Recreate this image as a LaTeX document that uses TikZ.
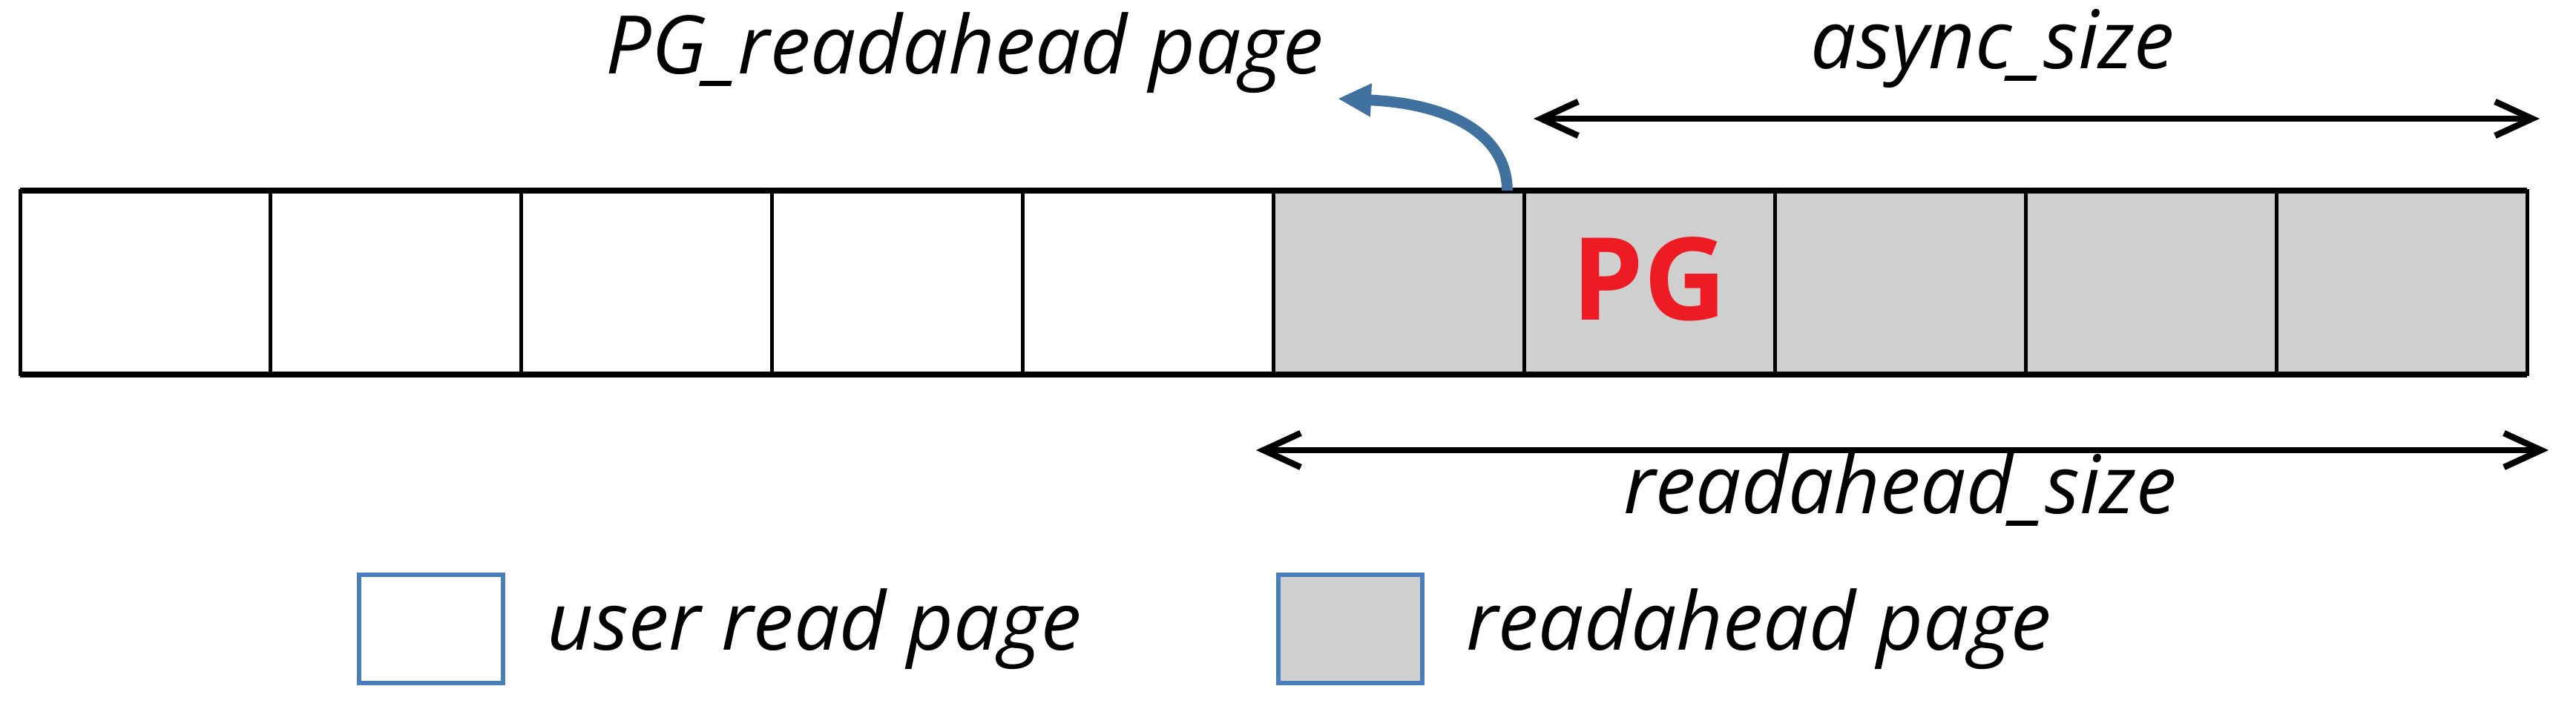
\documentclass[tikz,border=0pt]{standalone}
\usepackage{fontspec}
\setmainfont{Open Sans}
\usepackage{tikz}
\usetikzlibrary{positioning,arrows.meta,calc}
\definecolor{pageF}{HTML}{D0CFCF}
\definecolor{keyB}{HTML}{4A7EBB}
\definecolor{hintB}{HTML}{41729F}
\definecolor{pgred}{HTML}{ED1C24}
\tikzset{
  page/.style={draw=black, line width=1.4pt, minimum width=3.379cm,
               minimum height=2.48cm, inner sep=0pt, outer sep=0pt},
  userpg/.style={page, fill=white},
  rapg/.style={page, fill=pageF},
  lbl/.style={font=\itshape\fontsize{31}{36}\selectfont, inner sep=0pt},
  span/.style={{Straight Barb[length=5mm,width=4.6mm,line width=2.4pt]}-{Straight Barb[length=5mm,width=4.6mm,line width=2.4pt]},
               line width=2.3pt},
  hint/.style={-{Triangle[length=4.5mm,width=4.2mm]}, line width=4.2pt, draw=hintB},
  keybox/.style={draw=keyB, line width=1.6pt, minimum width=1.94cm,
                 minimum height=1.46cm, inner sep=0pt},
}
\begin{document}
\begin{tikzpicture}
  \useasboundingbox (0,0) rectangle (34.72,9.55);
  % the page row
  \node[userpg] (c1) at (1.96,5.74) {};
  \foreach \i [count=\j from 2] in {1,...,4}
    \node[userpg, right=0pt of c\i] (c\j) {};
  \node[rapg, right=0pt of c5] (c6) {};
  \foreach \i [count=\j from 7] in {6,...,9}
    \node[rapg, right=0pt of c\i] (c\j) {};
  \draw[line width=2pt] (c1.north west) -- (c10.north east);
  \draw[line width=2pt] (c1.south west) -- (c10.south east);
  \node[font=\bfseries\fontsize{44}{48}\selectfont, text=pgred] (pg)
    at ($(c7)+(0,0.05)$) {PG};

  % marker page
  \node[lbl] (ratxt) at (13.0,8.84) {PG\_readahead page};
  \coordinate (src) at ($(c6.north east)+(-0.23,0)$);
  \coordinate (tip) at (18.03,8.22);
  \draw[hint] (src) .. controls +(0,0.72) and +(1.57,-0.07) .. (tip);

  % spans
  \coordinate (asL) at (20.67,7.95);
  \coordinate (asR) at (34.23,7.95);
  \draw[span] (asL) -- (asR);
  \node[lbl] (astxt) at (26.86,8.89) {async\_size};
  \coordinate (rsL) at (16.93,3.48);
  \coordinate (rsR) at (34.35,3.48);
  \draw[span] (rsL) -- (rsR);
  \node[lbl] (rstxt) at (25.61,2.95) {readahead\_size};

  % legend
  \node[keybox, fill=white] (k1) at (5.81,1.07) {};
  \node[lbl, right=0.56cm of k1] (k1t) {user read page};
  \node[keybox, fill=pageF] (k2) at (18.20,1.07) {};
  \node[lbl, right=0.56cm of k2] (k2t) {readahead page};
\end{tikzpicture}
\end{document}
